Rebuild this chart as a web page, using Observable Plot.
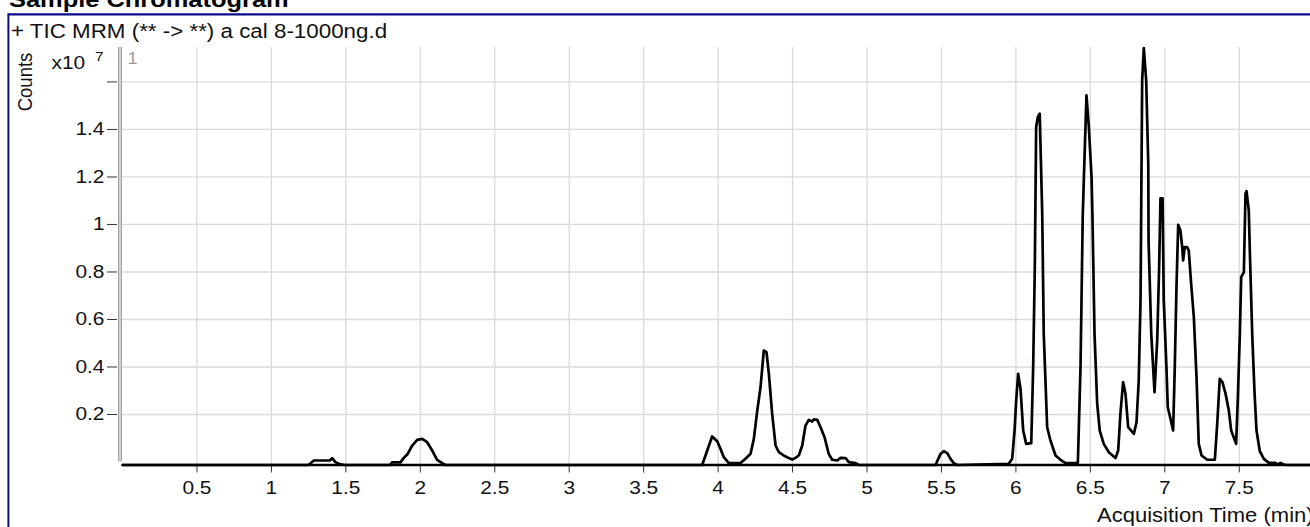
<!DOCTYPE html>
<html><head><meta charset="utf-8">
<script src="https://cdn.jsdelivr.net/npm/d3@7"></script>
<script src="https://cdn.jsdelivr.net/npm/@observablehq/plot@0.6"></script>
<style>
html,body{margin:0;padding:0;background:#fff;overflow:hidden;width:1310px;height:527px}
#chart svg{display:block}
</style></head><body><div id="chart"></div>
<script>
// ---- text ----
const title = "Sample Chromatogram";
const traceLabel = "+ TIC MRM (** -> **) a cal 8-1000ng.d";
const yAxisLabel = "Counts";
const yMultiplier = "x10";
const yExponent = "7";
const panelIndex = "1";
const xAxisLabel = "Acquisition Time (min)";

// ---- ticks ----
const xTicks = [0.5, 1, 1.5, 2, 2.5, 3, 3.5, 4, 4.5, 5, 5.5, 6, 6.5, 7, 7.5];
const xTickLabels = ["0.5","1","1.5","2","2.5","3","3.5","4","4.5","5","5.5","6","6.5","7","7.5"];
const yTicks = [0.2, 0.4, 0.6, 0.8, 1, 1.2, 1.4, 1.6];
const yTickLabels = ["0.2","0.4","0.6","0.8","1","1.2","1.4",""];

// ---- data: acquisition time (min) and counts (x10^7) ----
const times = [
 0, 1.249, 1.285, 1.392, 1.408, 1.430, 1.453, 1.486,
 1.797, 1.811, 1.867, 1.889, 1.912, 1.946, 1.979, 2.013, 2.046, 2.080, 2.113, 2.147, 2.169,
 3.893, 3.927, 3.960, 3.994, 4.016, 4.038, 4.072, 4.151, 4.184, 4.218, 4.240, 4.263, 4.285, 4.307,
 4.325, 4.341, 4.363, 4.386, 4.408, 4.441, 4.475, 4.498, 4.520, 4.542, 4.565, 4.587, 4.609, 4.632,
 4.643, 4.666, 4.688, 4.715, 4.743, 4.766, 4.800, 4.822, 4.856, 4.878, 4.923, 4.945,
 5.460, 5.494, 5.516, 5.539, 5.561, 5.583, 5.606,
 5.952, 5.975, 5.991, 6.002, 6.015, 6.031, 6.049, 6.069, 6.103, 6.116, 6.127, 6.136, 6.147, 6.160,
 6.177, 6.187, 6.210, 6.232, 6.266, 6.300, 6.333, 6.416, 6.434, 6.449, 6.456, 6.474, 6.490, 6.508,
 6.514, 6.528, 6.546, 6.563, 6.590, 6.624, 6.669, 6.687, 6.702, 6.720, 6.736, 6.754, 6.792, 6.810,
 6.825, 6.837, 6.848, 6.859, 6.875, 6.889, 6.891, 6.909, 6.931, 6.949, 6.962, 6.971, 6.985, 6.993,
 7.011, 7.020, 7.038, 7.056, 7.067, 7.079, 7.090, 7.105, 7.117, 7.123, 7.134, 7.150, 7.161, 7.177,
 7.195, 7.213, 7.228, 7.247, 7.285, 7.336, 7.352, 7.369, 7.387, 7.408, 7.430, 7.446, 7.479, 7.490,
 7.504, 7.513, 7.531, 7.542, 7.549, 7.564, 7.571, 7.587, 7.603, 7.616, 7.638, 7.665, 7.699, 7.744,
 7.755, 7.777, 7.799, 7.820, 8.0
];
const counts = [
 0, 0, 0.019, 0.019, 0.029, 0.012, 0.005, 0,
 0, 0.011, 0.011, 0.030, 0.044, 0.082, 0.106, 0.110, 0.096, 0.061, 0.022, 0.008, 0,
 0, 0.061, 0.120, 0.100, 0.068, 0.033, 0.008, 0.008, 0.026, 0.047, 0.110, 0.229, 0.328, 0.482,
 0.475, 0.384, 0.216, 0.082, 0.054, 0.040, 0.029, 0.023, 0.030, 0.040, 0.082, 0.166, 0.190, 0.183,
 0.192, 0.190, 0.159, 0.117, 0.047, 0.022, 0.019, 0.030, 0.029, 0.012, 0.008, 0,
 0, 0.047, 0.058, 0.050, 0.026, 0.008, 0,
 0.005, 0.026, 0.145, 0.272, 0.384, 0.321, 0.145, 0.089, 0.092, 0.412, 0.833, 1.422, 1.464, 1.479,
 1.051, 0.552, 0.159, 0.103, 0.040, 0.022, 0.008, 0.008, 0.412, 1.051, 1.198, 1.556, 1.422, 1.212,
 1.051, 0.552, 0.258, 0.145, 0.089, 0.054, 0.029, 0.061, 0.216, 0.349, 0.300, 0.159, 0.131, 0.180,
 0.356, 0.693, 1.619, 1.755, 1.619, 1.268, 0.945, 0.552, 0.307, 0.524, 0.833, 1.123, 1.123, 0.693,
 0.412, 0.243, 0.195, 0.145, 0.412, 0.763, 1.011, 0.987, 0.917, 0.861, 0.917, 0.917, 0.903, 0.763,
 0.622, 0.370, 0.089, 0.040, 0.022, 0.022, 0.173, 0.363, 0.349, 0.300, 0.229, 0.145, 0.089, 0.272,
 0.552, 0.791, 0.812, 1.142, 1.153, 1.072, 0.903, 0.552, 0.300, 0.145, 0.058, 0.026, 0.009, 0.009,
 0.002, 0.009, 0.002, 0, 0
];

const data = times.map((t, i) => ({t, v: counts[i]}));

// baseline of the trace sits slightly below the zero gridline in the original
const baselineOffset = -0.0126;
const yLo = -0.0126, yHi = 1.745;
const SX = 1.13; // horizontal text stretch of the original rendering
const FONT = "'Liberation Sans', Arial, Helvetica, sans-serif";

const chart = Plot.plot({
  width: 1310,
  height: 527,
  marginLeft: 122,
  marginRight: 0,
  marginTop: 47,
  marginBottom: 62.5,
  style: {fontFamily: FONT, fontSize: "18.5px", color: "#111", background: "transparent", overflow: "hidden"},
  x: {domain: [0, 8], range: [122, 1313.2]},
  y: {domain: [yLo, yHi], range: [464.5, 47]},
  marks: [
    Plot.gridX(xTicks, {stroke: "#dadada", strokeOpacity: 1, strokeWidth: 1.3}),
    Plot.gridY(yTicks, {stroke: "#dadada", strokeOpacity: 1, strokeWidth: 1.3}),
    Plot.ruleX([0], {y1: 0, y2: yHi, dx: -1.3, stroke: "#8c8c8c", strokeWidth: 1.2}),
    Plot.ruleX([0], {y1: 0, y2: yHi, dx: -3.7, stroke: "#8c8c8c", strokeWidth: 1.2}),
    Plot.axisX({ticks: xTicks, tickFormat: (d) => xTickLabels[xTicks.indexOf(d)], tickSize: 8, tickPadding: 8,
      label: null, stroke: "#333", fill: "#111", fontSize: 18.5}),
    Plot.axisY({ticks: yTicks, tickFormat: (d) => yTickLabels[yTicks.indexOf(d)], tickSize: 10, tickPadding: 3,
      dx: -5, label: null, stroke: "#333", fill: "#111", fontSize: 18.5}),
    Plot.line(data, {x: "t", y: (d) => d.v + baselineOffset, stroke: "#000", strokeWidth: 2.7, strokeLinejoin: "round"}),
    Plot.ruleY([yLo], {stroke: "#000", strokeWidth: 2.6})
  ]
});

document.getElementById("chart").appendChild(chart);
const svg = d3.select(chart);

// stretch the axis labels horizontally like the original rendering
svg.selectAll("text").each(function () {
  const tr = this.getAttribute("transform");
  if (tr) this.setAttribute("transform", tr + ` scale(${SX},1)`);
});

// panel border
svg.append("line").attr("x1", 8.4).attr("x2", 1310).attr("y1", 14.3).attr("y2", 14.3)
  .attr("stroke", "#0b0b8a").attr("stroke-width", 2.2);
svg.append("line").attr("x1", 8.4).attr("x2", 8.4).attr("y1", 13.2).attr("y2", 527)
  .attr("stroke", "#0b0b8a").attr("stroke-width", 2);

function addText(str, x, y, o = {}) {
  const t = svg.append("text")
    .attr("transform", `translate(${x},${y})${o.rotate ? ` rotate(${o.rotate})` : ""} scale(${o.rotate ? 1 : SX},${o.rotate ? SX : 1})`)
    .attr("font-family", FONT)
    .attr("font-size", o.size || 18.5)
    .attr("font-weight", o.weight || "normal")
    .attr("fill", o.fill || "#111")
    .attr("text-anchor", o.anchor || "start")
    .text(str);
  if (o.baseline) t.attr("dominant-baseline", o.baseline);
  return t;
}

addText(title, 9, 7, {size: 22.5, weight: "bold", fill: "#000"});
addText(traceLabel, 11, 38, {size: 19.8});
addText(yAxisLabel, 25, 82, {rotate: -90, anchor: "middle", baseline: "central", size: 18.5});
addText(yMultiplier, 51.5, 69, {size: 18.5});
addText(yExponent, 95, 61, {size: 13.5});
addText(panelIndex, 127.5, 64, {size: 16, fill: "#9a9a9a"});
addText(xAxisLabel, 1097, 521.5, {size: 19.5});
</script></body></html>
